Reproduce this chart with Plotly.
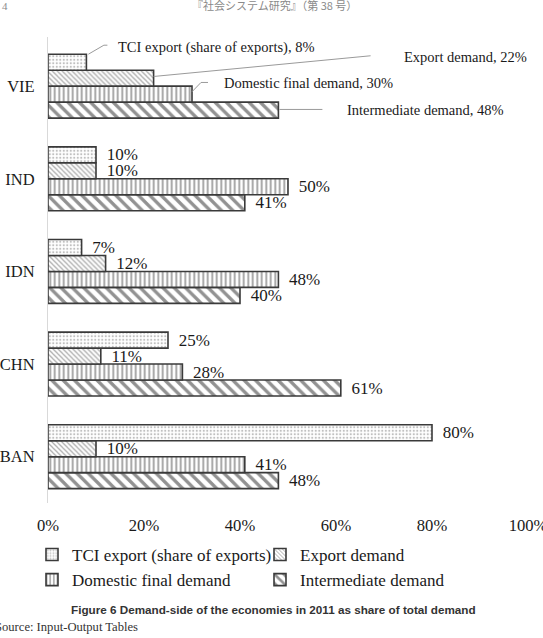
import plotly.graph_objects as go

# ---- data ----
countries = ["BAN", "CHN", "IDN", "IND", "VIE"]          # bottom -> top
series_names = ["Intermediate demand", "Domestic final demand",
                "Export demand", "TCI export (share of exports)"]  # bottom -> top inside a group
intermediate = [48, 61, 40, 41, 48]
domestic = [41, 28, 48, 50, 30]
export = [10, 11, 12, 10, 22]
tci = [80, 25, 7, 10, 8]
x_ticks = [0, 20, 40, 60, 80, 100]
x_tick_labels = ["0%", "20%", "40%", "60%", "80%", "100%"]

values = [intermediate, domestic, export, tci]

# ---- styles ----
SERIF = "Liberation Serif"
TXT = "#1a1a1a"
patterns = [
    dict(shape="\\", fgcolor="#262626", bgcolor="white", size=8, solidity=0.42),
    dict(shape="|", fgcolor="#3a3a3a", bgcolor="white", size=4.5, solidity=0.4),
    dict(shape="\\", fgcolor="#555555", bgcolor="white", size=3.5, solidity=0.35),
    dict(shape=".", fgcolor="#808080", bgcolor="white", size=3.5, solidity=0.3),
]
BARGAP = 0.31
W, H = 543, 638
L, R, T, B = 48, 15, 37, 135
PW, PH = W - L - R, H - T - B

fig = go.Figure()
for name, vals, pat in zip(series_names, values, patterns):
    txt = ["" if c == "VIE" else "\u00a0\u2009%d%%" % v for c, v in zip(countries, vals)]
    fig.add_trace(go.Bar(
        y=countries, x=vals, name=name, orientation="h",
        marker=dict(color="white", pattern=pat, line=dict(color="#3a3a3a", width=1.6)),
        text=txt, textposition="outside", constraintext="none", cliponaxis=False,
        textfont=dict(family=SERIF, size=17, color=TXT),
        hoverinfo="skip",
    ))

# callouts for VIE (top group)
bw = (1 - BARGAP) / 4
offsets = [-1.5 * bw, -0.5 * bw, 0.5 * bw, 1.5 * bw]
vie = countries.index("VIE")
# (leader path in px relative to bar end, text shift)
callout_geo = [
    ("M 1 0.7 L 44 0.7", 67, 0),
    ("M 0 2.4 L 9 11.7 L 16 11.7", 30, 10.7),
    ("M 0 1.7 L 217 22.4", 248, 20.7),
    ("M 2 8 L 17.5 17 L 21 17", 30, 14.7),
]
for name, vals, off, (path, dx, dy) in zip(series_names, values, offsets, callout_geo):
    v = vals[vie]
    fig.add_shape(type="path", xref="x", yref="y", xsizemode="pixel", ysizemode="pixel",
                  xanchor=v, yanchor=vie + off, path=path,
                  line=dict(color="#9a9a9a", width=1))
    fig.add_annotation(x=v, y=vie + off, xref="x", yref="y", text="%s, %d%%" % (name, v),
                       showarrow=False, xanchor="left", yanchor="middle",
                       xshift=dx, yshift=dy,
                       font=dict(family=SERIF, size=14.5, color=TXT))

def px(xp):
    return (xp - L) / PW

def py(yp):
    return (H - B - yp) / PH

# header, caption, source
fig.add_annotation(x=px(274), y=py(5), xref="paper", yref="paper", text="『社会システム研究』（第 38 号）",
                   showarrow=False, xanchor="center", yanchor="middle",
                   font=dict(family="Noto Sans CJK JP", size=11, color="#8a8a8a"))
fig.add_annotation(x=px(0), y=py(6), xref="paper", yref="paper", text="4",
                   showarrow=False, xanchor="left", yanchor="middle",
                   font=dict(family=SERIF, size=11, color="#8a8a8a"))
fig.add_annotation(x=px(273.5), y=py(609), xref="paper", yref="paper",
                   text="<b>Figure 6 Demand-side of the economies in 2011 as share of total demand</b>",
                   showarrow=False, xanchor="center", yanchor="middle",
                   font=dict(family="Liberation Sans", size=11.7, color="#333333"))
fig.add_annotation(x=px(-7), y=py(627), xref="paper", yref="paper",
                   text="Source: Input-Output Tables",
                   showarrow=False, xanchor="left", yanchor="middle",
                   font=dict(family=SERIF, size=12.6, color="#333333"))

fig.update_layout(
    width=W, height=H,
    margin=dict(l=L, r=R, t=T, b=B, autoexpand=False),
    paper_bgcolor="white", plot_bgcolor="white",
    barmode="group", bargap=BARGAP, bargroupgap=0,
    showlegend=True,
    legend=dict(orientation="h", traceorder="reversed", x=px(32), xanchor="left",
                y=py(537), yanchor="top", entrywidth=183, entrywidthmode="pixels",
                font=dict(family=SERIF, size=17, color=TXT), bgcolor="rgba(0,0,0,0)",
                itemclick=False),
    xaxis=dict(range=[0, 100], tickmode="array", tickvals=x_ticks, ticktext=x_tick_labels,
               showgrid=False, zeroline=False, showline=False, ticks="", ticklabelstandoff=10,
               ticklabeloverflow="allow",
               tickfont=dict(family=SERIF, size=16.6, color=TXT), automargin=False, fixedrange=True),
    yaxis=dict(categoryorder="array", categoryarray=countries, showgrid=False, zeroline=False,
               showline=True, linecolor="#d9d9d9", linewidth=1, ticks="",
               ticklabelstandoff=9, ticklabeloverflow="allow",
               tickfont=dict(family=SERIF, size=16.5, color=TXT),
               automargin=False, fixedrange=True),
)

fig.write_html("out.html")
